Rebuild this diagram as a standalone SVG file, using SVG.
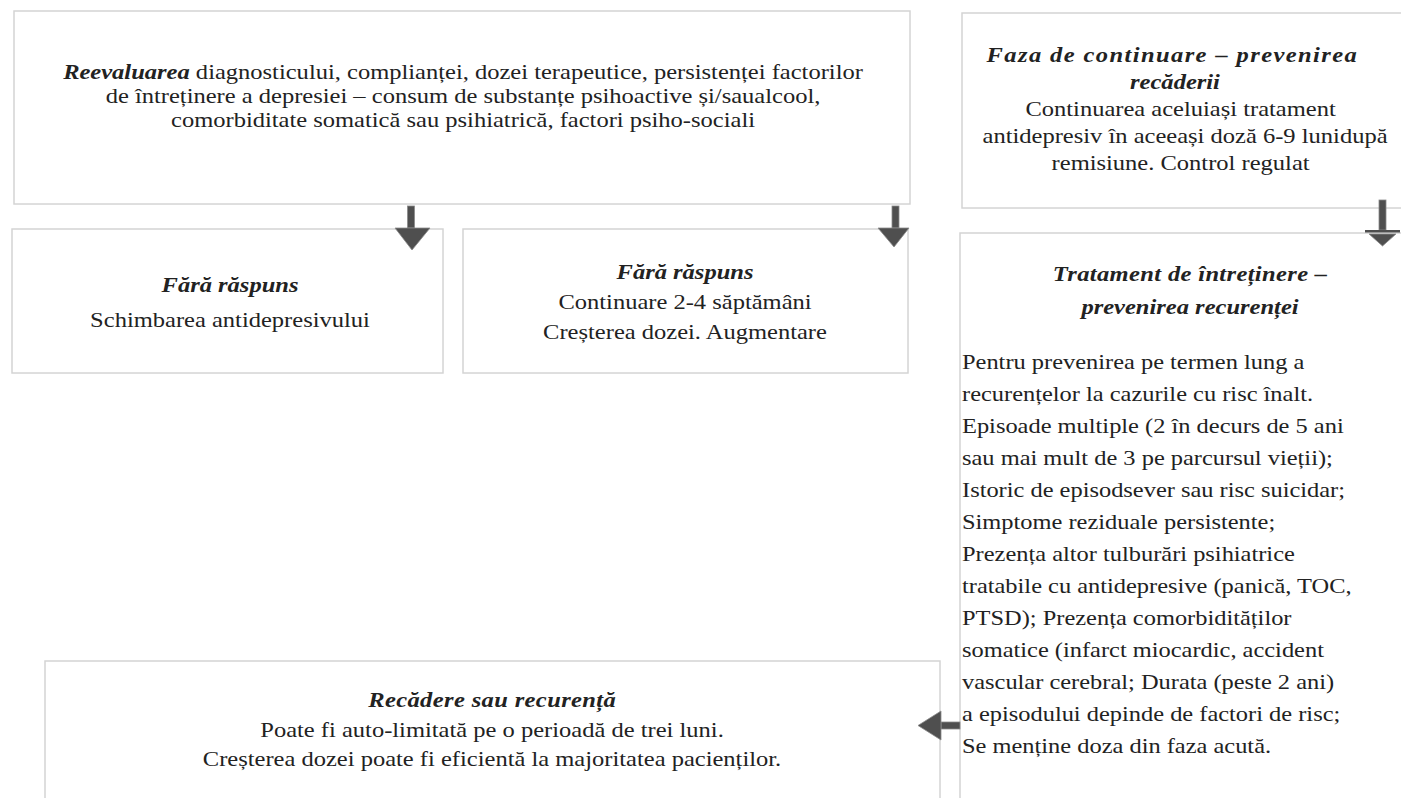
<svg xmlns="http://www.w3.org/2000/svg" width="1401" height="798" viewBox="0 0 1401 798">
<style>
.box{fill:#ffffff;stroke:#d4d4d4;stroke-width:1.5}
text{font-family:"Liberation Serif","Times New Roman",serif;font-size:22px;fill:#222}
.c{text-anchor:middle}
.t{font-style:italic;font-weight:bold}
.arr{fill:#4f4f4f;stroke:#8a8a8a;stroke-width:0.8}
</style>
<rect width="1401" height="798" fill="#ffffff"/>
<g id="node-reevaluare">
<rect class="box" x="14" y="11" width="896" height="193"/>
<g transform="translate(463 0) scale(1.115 1)">
<text class="c" x="0" y="79"><tspan class="t">Reevaluarea</tspan> diagnosticului, complianței, dozei terapeutice, persistenței factorilor</text>
<text class="c" x="0" y="103">de întreținere a depresiei – consum de substanțe psihoactive și/saualcool,</text>
<text class="c" x="0" y="127">comorbiditate somatică sau psihiatrică, factori psiho-sociali</text>
</g>
</g>
<g id="node-fara-raspuns-1">
<rect class="box" x="12" y="229" width="431" height="144"/>
<g transform="translate(230 0) scale(1.115 1)">
<text class="c t" x="0" y="292">Fără răspuns</text>
<text class="c" x="0" y="327">Schimbarea antidepresivului</text>
</g>
</g>
<g id="node-fara-raspuns-2">
<rect class="box" x="463" y="229" width="445" height="144"/>
<g transform="translate(685 0) scale(1.115 1)">
<text class="c t" x="0" y="279">Fără răspuns</text>
<text class="c" x="0" y="309">Continuare 2-4 săptămâni</text>
<text class="c" x="0" y="339">Creșterea dozei. Augmentare</text>
</g>
</g>
<g id="node-faza-continuare">
<rect class="box" x="962" y="13" width="445" height="195"/>
<g transform="translate(1175 0) scale(1.115 1)">
<text class="c t" x="-3" y="62" textLength="332" lengthAdjust="spacing">Faza de continuare – prevenirea</text>
<text class="c t" x="0" y="89">recăderii</text>
<text class="c" x="5" y="116">Continuarea aceluiași tratament</text>
<text class="c" x="9" y="143">antidepresiv în aceeași doză 6-9 lunidupă</text>
<text class="c" x="5" y="170">remisiune. Control regulat</text>
</g>
</g>
<g id="node-tratament-intretinere">
<rect class="box" x="960" y="233" width="447" height="580"/>
<g transform="translate(1190 0) scale(1.115 1)">
<text class="c t" x="0" y="281" textLength="246" lengthAdjust="spacing">Tratament de întreținere –</text>
<text class="c t" x="0" y="314">prevenirea recurenței</text>
</g>
<g transform="translate(962 0) scale(1.11 1)">
<text x="0" y="369">Pentru prevenirea pe termen lung a</text>
<text x="0" y="401">recurențelor la cazurile cu risc înalt.</text>
<text x="0" y="433">Episoade multiple (2 în decurs de 5 ani</text>
<text x="0" y="465">sau mai mult de 3 pe parcursul vieții);</text>
<text x="0" y="497">Istoric de episodsever sau risc suicidar;</text>
<text x="0" y="529">Simptome reziduale persistente;</text>
<text x="0" y="561">Prezența altor tulburări psihiatrice</text>
<text x="0" y="593">tratabile cu antidepresive (panică, TOC,</text>
<text x="0" y="625">PTSD); Prezența comorbidităților</text>
<text x="0" y="657">somatice (infarct miocardic, accident</text>
<text x="0" y="689">vascular cerebral; Durata (peste 2 ani)</text>
<text x="0" y="721">a episodului depinde de factori de risc;</text>
<text x="0" y="753">Se menține doza din faza acută.</text>
</g>
</g>
<g id="node-recadere">
<rect class="box" x="45" y="661" width="895" height="160"/>
<g transform="translate(492 0) scale(1.115 1)">
<text class="c t" x="0" y="707" textLength="222" lengthAdjust="spacing">Recădere sau recurență</text>
<text class="c" x="0" y="737">Poate fi auto-limitată pe o perioadă de trei luni.</text>
<text class="c" x="0" y="766">Creșterea dozei poate fi eficientă la majoritatea pacienților.</text>
</g>
</g>
<g id="connectors">
<rect class="arr" x="407.5" y="206" width="7" height="22"/>
<polygon class="arr" points="395,228 430,228 412,250"/>
<rect class="arr" x="892" y="206" width="7" height="22"/>
<polygon class="arr" points="878,228 909,228 894,247"/>
<rect class="arr" x="1379" y="200" width="7" height="30"/>
<rect x="1365" y="230" width="35" height="2.5" fill="#4f4f4f"/>
<polygon class="arr" points="1369,234 1396,234 1382.5,246"/>
<rect class="arr" x="941" y="722" width="19" height="7"/>
<polygon class="arr" points="941,711 941,740 918,725.5"/>
</g>
</svg>
